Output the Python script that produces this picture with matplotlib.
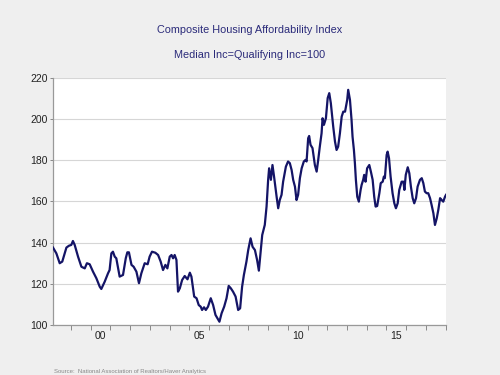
import matplotlib
matplotlib.use("Agg")
import matplotlib.pyplot as plt
import numpy as np

# decimal year / index value
years = [
    1998.09, 1998.26, 1998.43, 1998.56, 1998.77, 1998.90, 1999.02, 1999.10, 1999.19, 1999.36,
    1999.53, 1999.70, 1999.81, 1999.95, 2000.12, 2000.29, 2000.46, 2000.54, 2000.71, 2000.88,
    2000.96, 2001.05, 2001.13, 2001.22, 2001.30, 2001.47, 2001.64, 2001.78, 2001.86, 2001.94,
    2002.07, 2002.18, 2002.32, 2002.45, 2002.57, 2002.74, 2002.89, 2002.99, 2003.11, 2003.28,
    2003.42, 2003.55, 2003.67, 2003.79, 2003.89, 2004.01, 2004.10, 2004.18, 2004.26, 2004.35,
    2004.43, 2004.52, 2004.64, 2004.77, 2004.91, 2005.03, 2005.11, 2005.25, 2005.37, 2005.48,
    2005.58, 2005.65, 2005.75, 2005.84, 2005.95, 2006.09, 2006.21, 2006.33, 2006.43, 2006.53,
    2006.64, 2006.77, 2006.89, 2007.00, 2007.11, 2007.22, 2007.35, 2007.48, 2007.58, 2007.68,
    2007.77, 2007.90, 2007.99, 2008.11, 2008.21, 2008.33, 2008.44, 2008.53, 2008.61, 2008.70,
    2008.83, 2008.92, 2009.00, 2009.05, 2009.14, 2009.22, 2009.30, 2009.43, 2009.51, 2009.59,
    2009.68, 2009.76, 2009.90, 2010.01, 2010.10, 2010.19, 2010.27, 2010.36, 2010.44, 2010.52,
    2010.61, 2010.70, 2010.81, 2010.90, 2010.95, 2011.03, 2011.08, 2011.15, 2011.25, 2011.37,
    2011.46, 2011.54, 2011.62, 2011.71, 2011.76, 2011.83, 2011.93, 2012.02, 2012.10, 2012.18,
    2012.30, 2012.39, 2012.47, 2012.55, 2012.64, 2012.73, 2012.81, 2012.90, 2013.01, 2013.06,
    2013.15, 2013.23, 2013.28, 2013.35, 2013.40, 2013.45, 2013.52, 2013.60, 2013.69, 2013.74,
    2013.82, 2013.87, 2013.94, 2014.02, 2014.13, 2014.21, 2014.30, 2014.38, 2014.45, 2014.53,
    2014.64, 2014.71, 2014.81, 2014.87, 2014.92, 2015.01, 2015.06, 2015.13, 2015.21, 2015.31,
    2015.40, 2015.48, 2015.57, 2015.65, 2015.77, 2015.86, 2015.91, 2015.98, 2016.08, 2016.16,
    2016.24, 2016.33, 2016.41, 2016.50, 2016.58, 2016.70, 2016.79, 2016.87, 2016.95, 2017.04,
    2017.12, 2017.21, 2017.29, 2017.38, 2017.46, 2017.55, 2017.63, 2017.72, 2017.80, 2017.88,
    2017.97, 2018.02,
]
index_values = [
    137.6, 134.8, 130.0, 130.8, 137.6, 138.5, 138.9, 140.8, 138.9, 133.2,
    128.3, 127.5, 130.0, 129.5, 125.9, 122.7, 118.6, 117.5, 121.0, 125.1,
    126.7, 134.8, 135.6, 133.2, 132.4, 123.5, 124.3, 132.4, 135.3, 135.3,
    129.2, 128.3, 125.9, 120.3, 125.1, 130.0, 129.5, 133.2, 135.6, 135.1,
    134.0, 130.8, 126.7, 129.2, 127.5, 133.2, 134.0, 132.4, 134.0, 131.6,
    116.2, 117.8, 121.9, 123.8, 122.2, 125.4, 123.5, 113.8, 113.0, 109.7,
    108.9, 107.3, 108.6, 107.3, 108.9, 113.0, 109.7, 104.9, 103.3, 101.6,
    105.7, 108.9, 113.0, 119.0, 117.8, 116.2, 113.8, 107.3, 108.1, 118.6,
    124.3, 130.8, 136.4, 142.1, 138.0, 136.4, 131.6, 126.4, 134.8, 143.7,
    148.6, 157.5, 170.5, 176.1, 170.5, 177.7, 172.1, 162.3, 156.7, 160.7,
    163.2, 169.6, 176.9, 179.4, 178.6, 175.3, 170.5, 167.2, 160.7, 163.2,
    171.3, 176.1, 179.4, 180.2, 179.4, 190.7, 191.8, 187.5, 185.9, 177.7,
    174.5, 180.2, 186.6, 193.1, 200.4, 197.2, 200.4, 210.2, 212.6, 207.7,
    196.4, 189.1, 185.0, 186.6, 193.1, 201.2, 203.6, 203.6, 209.3, 214.2,
    209.3, 199.6, 191.5, 185.0, 178.6, 170.5, 162.3, 159.9, 165.6, 168.0,
    170.5, 172.9, 169.6, 176.1, 177.7, 174.5, 170.5, 162.3, 157.5, 157.8,
    164.0, 168.9, 169.6, 172.1, 171.3, 182.6, 184.2, 181.0, 172.1, 164.0,
    159.1, 156.7, 159.1, 165.6, 169.6, 169.6, 165.6, 172.9, 176.6, 173.7,
    167.2, 161.6, 159.1, 161.6, 167.2, 170.5, 171.3, 168.9, 164.8, 164.0,
    164.0, 161.6, 158.3, 154.3, 148.6, 151.8, 155.9, 161.6, 160.7, 159.9,
    162.3, 163.2,
]
year_ticks = list(range(1999, 2019))
label_years = [2000, 2005, 2010, 2015]
label_text = ["00", "05", "10", "15"]
y_ticks = [100, 120, 140, 160, 180, 200, 220]

bg = "#efefef"
navy = "#2b2b7a"
plt.rcParams["font.family"] = ["Liberation Sans", "DejaVu Sans"]

fig = plt.figure(figsize=(5, 3.75), dpi=100, facecolor=bg)
ax = fig.add_axes([0.106, 0.1333, 0.786, 0.659])
ax.set_facecolor("white")

ax.plot(years, index_values, color="#141466", linewidth=1.6, zorder=3)

ax.set_xlim(1998.09, 2018.02)
ax.set_ylim(100, 220)
ax.set_yticks(y_ticks)
ax.set_yticklabels([str(v) for v in y_ticks], fontsize=7.5, color="#222222")
ax.yaxis.grid(True, color="#d6d6d6", linewidth=0.8)
ax.set_axisbelow(True)

# year boundary ticks, labels centred in the year
ax.set_xticks(year_ticks, minor=True)
ax.set_xticks([y + 0.5 for y in label_years])
ax.set_xticklabels(label_text, fontsize=7.5, color="#222222")
ax.tick_params(axis="x", which="major", length=0, pad=4)
ax.tick_params(axis="x", which="minor", length=3.5, width=0.7, color="#888888")
ax.tick_params(axis="y", length=2.5, width=0.7, color="#888888", pad=1.5)

for side in ["top", "right"]:
    ax.spines[side].set_visible(False)
for side in ["left", "bottom"]:
    ax.spines[side].set_color("#999999")
    ax.spines[side].set_linewidth(0.9)

fig.text(0.5, 1 - 30 / 375, "Composite Housing Affordability Index",
         ha="center", va="center", fontsize=7.8, color=navy)
fig.text(0.5, 1 - 55 / 375, "Median Inc=Qualifying Inc=100",
         ha="center", va="center", fontsize=7.8, color=navy)
fig.text(54 / 500, 1 - 371 / 375, "Source:  National Association of Realtors/Haver Analytics",
         ha="left", va="center", fontsize=4.3, color="#888888")

fig.savefig("out.png", dpi=100, facecolor=bg)
